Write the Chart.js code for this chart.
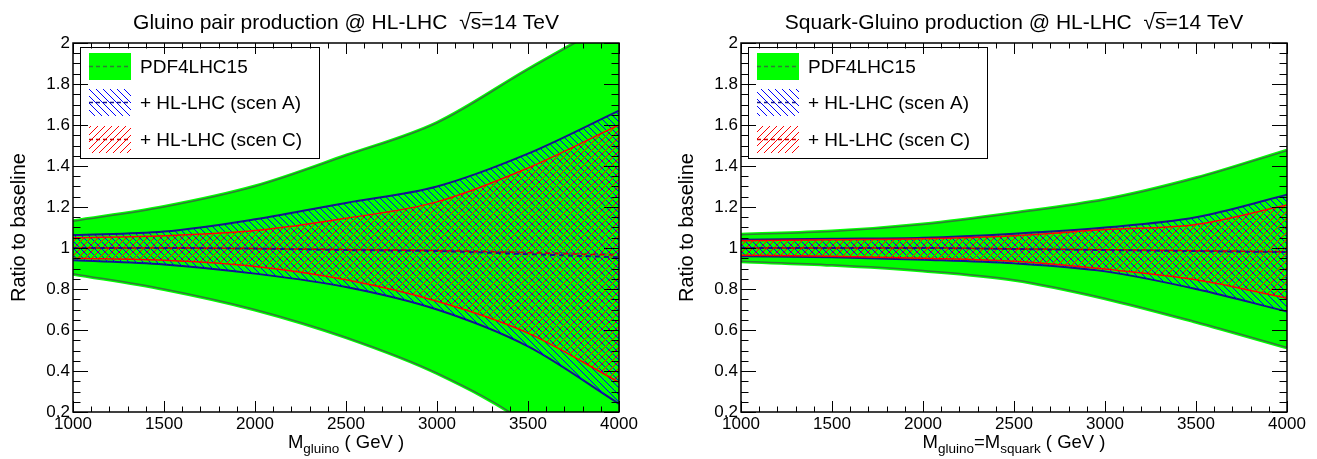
<!DOCTYPE html>
<html><head><meta charset="utf-8">
<script src="https://cdn.jsdelivr.net/npm/chart.js@4.4.1/dist/chart.umd.min.js"></script>
<style>
html,body{margin:0;padding:0;background:#fff;}
#wrap{position:relative;width:1317px;height:459px;overflow:hidden;}
canvas{position:absolute;top:0;}
</style></head><body>
<div id="wrap">
<canvas id="c1" width="658" height="459" style="left:0"></canvas>
<canvas id="c2" width="659" height="459" style="left:658px"></canvas>
</div>
<script>
// ---------- data ----------
const masses = [1000, 1500, 2000, 2500, 3000, 3500, 4000];
const xTicks = [1000, 1500, 2000, 2500, 3000, 3500, 4000];
const xTickLabels = ['1000', '1500', '2000', '2500', '3000', '3500', '4000'];
const yTicks = [0.2, 0.4, 0.6, 0.8, 1.0, 1.2, 1.4, 1.6, 1.8, 2.0];
const yTickLabels = ['0.2', '0.4', '0.6', '0.8', '1', '1.2', '1.4', '1.6', '1.8', '2'];
const legendLabels = ['PDF4LHC15', '+ HL-LHC (scen A)', '+ HL-LHC (scen C)'];

// Gluino pair production
const ggPdfUp  = [1.13, 1.20, 1.30, 1.45, 1.61, 1.87, 2.12];
const ggPdfDn  = [0.875, 0.80, 0.70, 0.565, 0.39, 0.14, -0.25];
const ggPdfCen = [1.00, 1.00, 0.998, 0.995, 0.99, 0.98, 0.97];
const ggAUp    = [1.063, 1.08, 1.14, 1.22, 1.30, 1.46, 1.67];
const ggADn    = [0.94, 0.92, 0.875, 0.81, 0.70, 0.52, 0.24];
const ggACen   = [1.00, 1.00, 0.997, 0.99, 0.985, 0.97, 0.955];
const ggCUp    = [1.05, 1.06, 1.085, 1.145, 1.225, 1.39, 1.60];
const ggCDn    = [0.95, 0.94, 0.91, 0.845, 0.74, 0.585, 0.345];
const ggCCen   = [1.00, 1.00, 0.997, 0.992, 0.987, 0.977, 0.965];

// Squark-Gluino production
const sgPdfUp  = [1.065, 1.08, 1.115, 1.17, 1.235, 1.34, 1.475];
const sgPdfDn  = [0.935, 0.918, 0.89, 0.845, 0.755, 0.64, 0.515];
const sgPdfCen = [1.00, 1.00, 1.00, 0.995, 0.99, 0.985, 0.98];
const sgAUp    = [1.04, 1.045, 1.05, 1.07, 1.10, 1.15, 1.26];
const sgADn    = [0.96, 0.955, 0.943, 0.925, 0.886, 0.80, 0.69];
const sgACen   = [1.00, 1.00, 1.00, 0.995, 0.99, 0.985, 0.98];
const sgCUp    = [1.035, 1.04, 1.045, 1.06, 1.09, 1.115, 1.21];
const sgCDn    = [0.965, 0.96, 0.95, 0.935, 0.897, 0.845, 0.755];
const sgCCen   = [1.00, 1.00, 1.00, 0.996, 0.992, 0.987, 0.982];

// ---------- styling ----------
const FONT = "'Liberation Sans', Arial, Helvetica, sans-serif";
const GREEN = '#00ff00', DKGREEN = '#2f7d35', BLUE = '#14148c', RED = '#ff0000', DKRED = '#cc0000';

function makeHatch(color, dir) {
  const p = 7;
  const c = document.createElement('canvas');
  c.width = p; c.height = p;
  const g = c.getContext('2d');
  g.fillStyle = color;
  for (let i = 0; i < p; i++) {
    if (dir === 'back') g.fillRect(i, i, 1, 1);
    else g.fillRect(i, p - 1 - i, 1, 1);
  }
  return g.createPattern(c, 'repeat');
}
const blueHatch = makeHatch('#0000ff', 'back');
const redHatch = makeHatch('#ff0000', 'fwd');

const pts = arr => masses.map((m, i) => ({x: m, y: arr[i]}));
const DS = (arr, o) => Object.assign({data: pts(arr), pointRadius: 0, cubicInterpolationMode: 'monotone', fill: false, clip: 0, borderWidth: 1.5}, o);

function datasets(s) {
  return [
    DS(s.pdfUp, {fill: 1, backgroundColor: GREEN, borderColor: GREEN, borderWidth: 4, order: 20}),
    DS(s.pdfDn, {borderColor: GREEN, borderWidth: 4, order: 19}),
    DS(s.pdfUp, {borderColor: DKGREEN, borderWidth: 1.5, order: 18}),
    DS(s.pdfDn, {borderColor: DKGREEN, borderWidth: 1.5, order: 18}),
    DS(s.pdfCen, {borderColor: DKGREEN, borderDash: [5, 3], order: 17}),
    DS(s.aUp, {fill: 6, backgroundColor: blueHatch, borderColor: BLUE, borderWidth: 2, order: 15}),
    DS(s.aDn, {borderColor: BLUE, borderWidth: 2, order: 15}),
    DS(s.cUp, {fill: 8, backgroundColor: redHatch, borderColor: RED, borderWidth: 1.5, order: 14}),
    DS(s.cDn, {borderColor: RED, borderWidth: 1.5, order: 14}),
    DS(s.aCen, {borderColor: BLUE, borderDash: [5, 4], borderWidth: 2, order: 12}),
    DS(s.cCen, {borderColor: DKRED, borderDash: [5, 4], borderDashOffset: 4.5, borderWidth: 1.5, order: 11})
  ];
}

// ---------- plugins ----------
const framePlugin = {
  id: 'rootFrame',
  afterDraw(chart) {
    const {left, right, top, bottom} = chart.chartArea;
    const xs = chart.scales.x, ys = chart.scales.y, ctx = chart.ctx;
    ctx.save();
    ctx.strokeStyle = '#000'; ctx.lineWidth = 1;
    ctx.beginPath();
    for (let i = 0; i <= 36; i++) {
      const v = 0.2 + i * 0.05;
      const y = Math.round(ys.getPixelForValue(v)) + 0.5;
      const L = (i % 4 === 0) ? 15 : 7.5;
      ctx.moveTo(left, y); ctx.lineTo(left + L, y);
      ctx.moveTo(right, y); ctx.lineTo(right - L, y);
    }
    for (let i = 0; i <= 30; i++) {
      const v = 1000 + i * 100;
      const x = Math.round(xs.getPixelForValue(v)) + 0.5;
      const L = (i % 5 === 0) ? 11 : 5.5;
      ctx.moveTo(x, bottom); ctx.lineTo(x, bottom - L);
      ctx.moveTo(x, top); ctx.lineTo(x, top + L);
    }
    ctx.stroke();
    ctx.lineWidth = 1.5;
    ctx.strokeRect(left, top, right - left, bottom - top);
    ctx.restore();
  }
};

const legendPlugin = {
  id: 'rootLegend',
  afterDatasetsDraw(chart) {
    const {left, top} = chart.chartArea, ctx = chart.ctx;
    ctx.save();
    ctx.fillStyle = '#fff';
    ctx.fillRect(left + 7, top + 4, 239, 111);
    ctx.strokeStyle = '#000'; ctx.lineWidth = 1;
    ctx.strokeRect(left + 7.5, top + 4.5, 239, 111);
    const fills = [GREEN, blueHatch, redHatch];
    const lines = [DKGREEN, BLUE, DKRED];
    const offs = [10, 46, 83];
    for (let i = 0; i < 3; i++) {
      const sx = left + 16, sy = top + offs[i], sw = 42, sh = 27;
      ctx.fillStyle = fills[i];
      ctx.fillRect(sx, sy, sw, sh);
      ctx.strokeStyle = lines[i]; ctx.lineWidth = 1.5;
      ctx.setLineDash([4, 3]);
      ctx.beginPath(); ctx.moveTo(sx, sy + sh / 2); ctx.lineTo(sx + sw, sy + sh / 2); ctx.stroke();
      ctx.setLineDash([]);
      ctx.fillStyle = '#000';
      ctx.font = '19px ' + FONT;
      ctx.textAlign = 'left'; ctx.textBaseline = 'middle';
      ctx.fillText(legendLabels[i], left + 67, sy + sh / 2 + 1);
    }
    ctx.restore();
  }
};

function drawRich(ctx, parts, cx, base) {
  let total = 0;
  for (const p of parts) { ctx.font = p.size + 'px ' + FONT; p.w = ctx.measureText(p.t).width; total += p.w + (p.gap || 0); }
  let x = cx - total / 2;
  for (const p of parts) {
    ctx.font = p.size + 'px ' + FONT;
    ctx.fillText(p.t, x, base + (p.dy || 0));
    if (p.over) {
      ctx.beginPath(); ctx.lineWidth = 1.2;
      ctx.moveTo(x - 1, base - p.size * 0.78); ctx.lineTo(x + p.w + 1, base - p.size * 0.78); ctx.stroke();
    }
    x += p.w + (p.gap || 0);
  }
}

const textPlugin = {
  id: 'rootText',
  afterDraw(chart) {
    const o = chart.options.plugins.rootText;
    const {left, right, top, bottom} = chart.chartArea, ctx = chart.ctx;
    const cx = (left + right) / 2;
    ctx.save();
    ctx.fillStyle = '#000'; ctx.strokeStyle = '#000';
    ctx.textAlign = 'left'; ctx.textBaseline = 'alphabetic';
    drawRich(ctx, [
      {t: o.title, size: 21, gap: 6},
      {t: '\u221A', size: 21},
      {t: 's', size: 21, over: true},
      {t: '=14 TeV', size: 21}
    ], cx, 29);
    drawRich(ctx, o.xtitle, cx, 448);
    ctx.translate(left - 55, (top + bottom) / 2);
    ctx.rotate(-Math.PI / 2);
    ctx.textAlign = 'center';
    ctx.font = '20px ' + FONT;
    ctx.fillText('Ratio to baseline', 0, 7);
    ctx.restore();
  }
};

function makeChart(id, series, padL, padR, title, xtitle) {
  return new Chart(document.getElementById(id), {
    type: 'line',
    data: {datasets: datasets(series)},
    options: {
      responsive: false, animation: false, devicePixelRatio: 1,
      layout: {padding: {left: padL, right: padR, top: 43, bottom: 17}},
      plugins: {legend: {display: false}, tooltip: {enabled: false}, rootText: {title, xtitle}},
      scales: {
        x: {
          type: 'linear', min: 1000, max: 4000,
          grid: {display: false, drawTicks: false}, border: {display: false},
          afterBuildTicks: s => { s.ticks = xTicks.map(v => ({value: v})); },
          afterFit: s => { s.height = 30; },
          ticks: {autoSkip: false, maxRotation: 0, padding: 2, color: '#000', font: {family: FONT, size: 17},
                  callback: v => xTickLabels[xTicks.indexOf(v)]}
        },
        y: {
          type: 'linear', min: 0.2, max: 2.0,
          grid: {display: false, drawTicks: false}, border: {display: false},
          afterBuildTicks: s => { s.ticks = yTicks.map(v => ({value: v})); },
          afterFit: s => { s.width = 40; },
          ticks: {autoSkip: false, padding: 3, color: '#000', font: {family: FONT, size: 17},
                  callback: (v, i) => yTickLabels[i]}
        }
      }
    },
    plugins: [legendPlugin, framePlugin, textPlugin]
  });
}

makeChart('c1', {pdfUp: ggPdfUp, pdfDn: ggPdfDn, pdfCen: ggPdfCen, aUp: ggAUp, aDn: ggADn, aCen: ggACen, cUp: ggCUp, cDn: ggCDn, cCen: ggCCen},
  33, 39, 'Gluino pair production @ HL-LHC ',
  [{t: 'M', size: 18.5}, {t: 'gluino', size: 13.5, dy: 5}, {t: ' ( GeV )', size: 18.5}]);
makeChart('c2', {pdfUp: sgPdfUp, pdfDn: sgPdfDn, pdfCen: sgPdfCen, aUp: sgAUp, aDn: sgADn, aCen: sgACen, cUp: sgCUp, cDn: sgCDn, cCen: sgCCen},
  43, 30, 'Squark-Gluino production @ HL-LHC ',
  [{t: 'M', size: 18.5}, {t: 'gluino', size: 13.5, dy: 5}, {t: '=M', size: 18.5}, {t: 'squark', size: 13.5, dy: 5}, {t: ' ( GeV )', size: 18.5}]);
</script>
</body></html>
